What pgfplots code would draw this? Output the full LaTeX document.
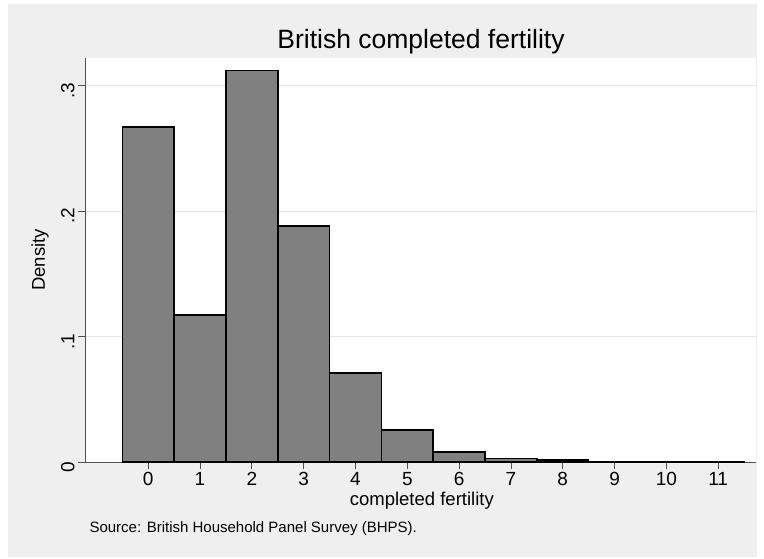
\documentclass[border=0pt]{standalone}
\usepackage{fontspec}
\setmainfont{Liberation Sans}
\usepackage{pgfplots}
\pgfplotsset{compat=1.18}

\definecolor{stataback}{RGB}{239,239,239}
\definecolor{barfill}{RGB}{128,128,128}
\definecolor{gridcol}{RGB}{230,230,230}
\definecolor{axiscol}{RGB}{80,80,80}

\begin{document}
\begin{tikzpicture}
  % page and outer graph region
  \fill[white] (-85pt,-96pt) rectangle (679pt,462pt);
  \fill[stataback] (-77pt,-95pt) rectangle (672pt,458pt);
  \begin{axis}[
      at={(0,0)}, anchor=south west,
      width=671pt, height=404pt, scale only axis,
      xmin=-1.22, xmax=11.73,
      ymin=0, ymax=0.322,
      axis x line*=bottom, axis y line*=left,
      axis background/.style={fill=white},
      xtick={0,1,2,3,4,5,6,7,8,9,10,11},
      ytick={0,0.1,0.2,0.3},
      yticklabels={0,.1,.2,.3},
      tick align=outside,
      major tick length=7pt,
      ymajorgrids,
      grid style={color=gridcol, line width=0.8pt},
      axis line style={color=axiscol, line width=0.8pt},
      tick style={color=axiscol, line width=0.8pt},
      ticklabel style={font=\fontsize{19}{22}\selectfont},
      xticklabel style={yshift=0pt},
      yticklabel style={rotate=90, anchor=south, xshift=-5pt},
      /pgf/number format/assume math mode=true,
      xlabel={completed fertility},
      ylabel={Density},
      label style={font=\fontsize{18.5}{22}\selectfont},
      xlabel style={at={(axis description cs:0.502,-0.096)}, anchor=center},
      ylabel style={at={(axis description cs:-0.067,0.5)}, anchor=center},
    ]
    \addplot[ybar, bar width=1, bar shift=0, fill=barfill, draw=black, line width=1.6pt]
      coordinates {
        (0,0.267) (1,0.117) (2,0.312) (3,0.188) (4,0.071) (5,0.0257)
        (6,0.008) (7,0.0029) (8,0.0016) (9,0.0005) (10,0.0005) (11,0.0004)
      };
  \end{axis}
  \node[font=\fontsize{26.5}{30}\selectfont] at (336pt,420pt) {British completed fertility};
  \node[anchor=west, font=\fontsize{15}{18}\selectfont] at (1pt,-67pt)
    {Source: British Household Panel Survey (BHPS).};
\end{tikzpicture}
\end{document}
